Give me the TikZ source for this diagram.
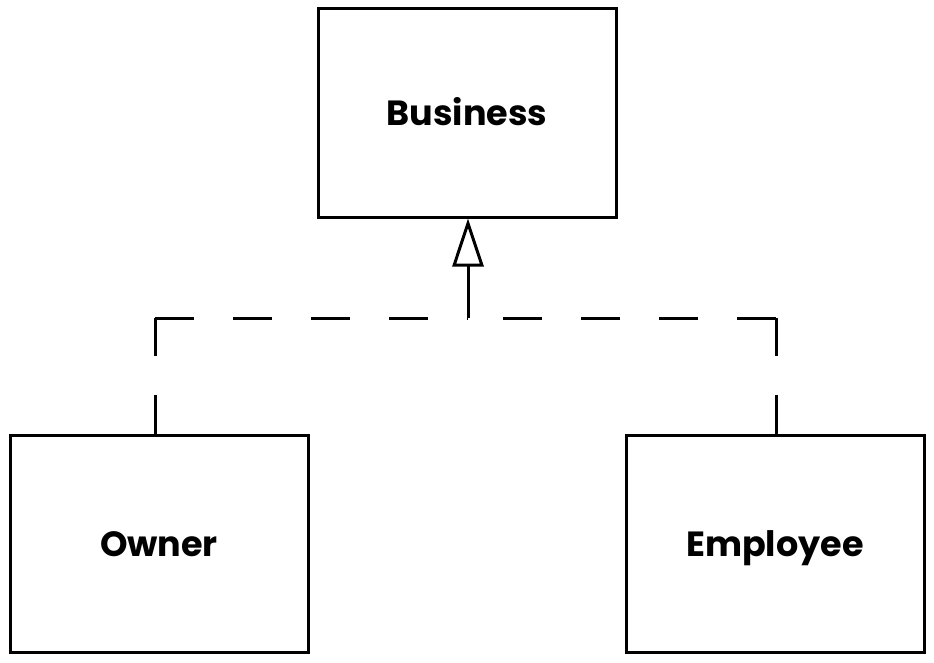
\documentclass[tikz,border=0pt]{standalone}
\usepackage{fontspec}
\setmainfont{Poppins}
\usetikzlibrary{arrows.meta}
\begin{document}
\begin{tikzpicture}[x=1pt,y=-1pt,
  box/.style={draw, line width=3pt, minimum width=298pt, inner sep=0pt, text height=25pt, text depth=0pt, font=\fontsize{35}{40}\selectfont\bfseries},
  dashline/.style={line width=3pt, dash pattern=on 39pt off 39pt},
  inherit/.style={line width=3pt, -{Triangle[open, length=48pt, width=31pt, line width=3pt]}}]
\useasboundingbox (0,0) rectangle (934,662);
\node[box, minimum height=209pt] (business) at (467,112.5) {Business};
\node[box, minimum height=217pt] (owner) at (159,543.5) {Owner};
\node[box, minimum height=217pt] (employee) at (775,543.5) {Employee};
\coordinate (j) at (468,318);
\coordinate (cl) at (155,318);
\coordinate (cr) at (776,318);
\draw[dashline] (owner.north -| cl) -- (cl);
\draw[dashline] (cl) -- (j);
\draw[dashline] (employee.north -| cr) -- (cr);
\draw[dashline] (cr) -- (j);
\draw[inherit] (j) -- (business.south -| j);
\end{tikzpicture}
\end{document}
